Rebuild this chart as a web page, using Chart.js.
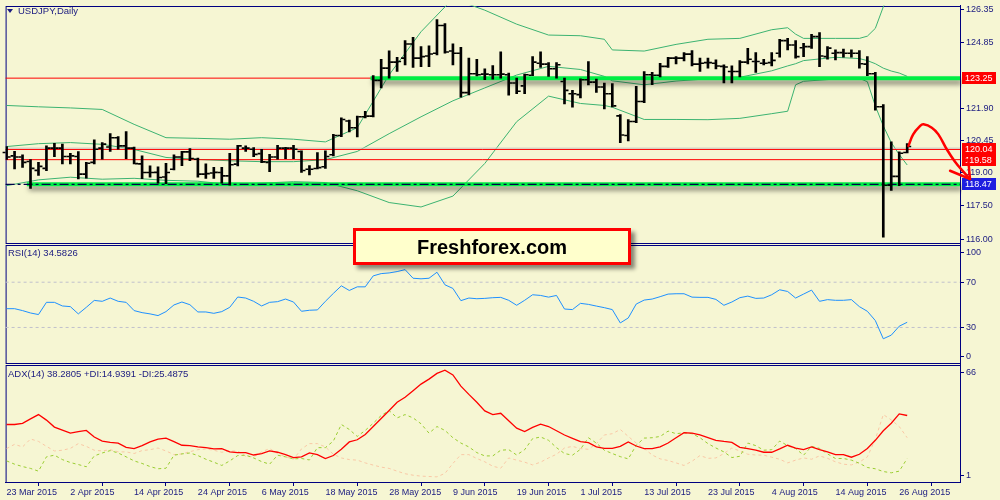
<!DOCTYPE html>
<html>
<head>
<meta charset="utf-8">
<title>USDJPY Daily</title>
<script src="https://cdn.jsdelivr.net/npm/chart.js@4.4.1/dist/chart.umd.min.js"></script>
<style>
  html, body { margin: 0; padding: 0; background: #f6f6d3; }
  #wrap { position: relative; width: 1000px; height: 500px; overflow: hidden; background: #f6f6d3; }
  #chart { position: absolute; left: 0; top: 0; }
  .cap { position: absolute; font: 9.5px "Liberation Sans", Arial, sans-serif; color: #1a1a80; white-space: nowrap; line-height: 12px; }
  .tri { position: absolute; left: 7px; top: 9px; width: 0; height: 0; border-left: 3px solid transparent; border-right: 3px solid transparent; border-top: 4px solid #1a1a80; }
  #brand { position: absolute; left: 353px; top: 228px; width: 272px; height: 31px; border: 3px solid #ff0000;
           background: #ffffcc; box-shadow: 4px 4px 4px rgba(0,0,0,0.45); color: #000; text-align: center;
           font: bold 20px "Liberation Sans", Arial, sans-serif; line-height: 33px; }
</style>
</head>
<body>
<div id="wrap">
  <canvas id="chart" width="1000" height="500"></canvas>
  <div class="tri"></div>
  <div class="cap" style="left:18px;top:5px">USDJPY,Daily</div>
  <div class="cap" style="left:8px;top:247px">RSI(14) 34.5826</div>
  <div class="cap" style="left:8px;top:368px">ADX(14) 38.2805 +DI:14.9391 -DI:25.4875</div>
  <div id="brand">Freshforex.com</div>
</div>
<script>
// daily bars, 23 Mar 2015 .. 27 Aug 2015 (weekdays)
const openP = [119.90,119.75,119.70,119.50,119.10,119.19,120.10,120.10,119.72,119.72,
  118.93,119.46,120.10,120.15,120.57,120.20,120.10,119.39,119.00,119.01,
  118.80,119.15,119.70,119.93,119.60,118.93,118.98,119.00,118.85,119.38,
  120.10,120.05,119.85,119.46,119.70,120.10,120.10,119.95,119.15,119.18,
  119.26,119.80,120.67,121.32,121.02,121.51,121.54,123.15,123.70,123.97,
  124.15,124.79,124.15,124.25,124.37,125.62,124.47,124.37,122.60,123.45,
  123.43,123.40,123.40,123.40,123.03,122.90,123.38,123.92,123.88,123.67,
  123.10,122.55,122.51,123.18,123.07,122.85,122.55,121.55,120.67,121.30,
  122.20,123.40,123.38,123.78,124.15,124.15,124.33,123.88,123.95,123.92,
  123.78,123.55,123.55,123.97,124.00,123.92,123.95,124.37,124.94,124.74,
  124.62,124.67,125.12,124.22,124.37,124.40,124.37,124.37,123.88,123.45,
  121.96,118.43,118.83,119.90];
const highP = [120.17,119.96,119.80,119.58,119.46,120.20,120.32,120.28,119.87,119.94,
  119.46,120.47,120.35,120.75,120.62,120.84,120.15,119.75,119.30,119.26,
  119.41,119.80,119.95,120.08,119.65,119.39,119.23,119.23,119.87,120.23,
  120.20,120.12,120.05,119.82,120.23,120.13,120.23,119.98,119.31,119.90,
  119.98,120.72,121.46,121.36,121.54,121.76,123.36,124.10,124.48,124.19,
  124.94,125.09,124.67,124.70,125.89,125.71,124.79,124.64,124.15,124.10,
  123.67,123.82,124.44,123.48,123.25,123.43,124.22,124.44,123.95,123.95,
  123.25,122.70,123.22,124.00,123.21,123.03,123.00,121.61,121.39,122.88,
  123.55,123.51,123.92,124.19,124.22,124.40,124.49,124.15,124.15,124.07,
  123.85,123.80,124.04,124.59,124.40,124.10,124.40,125.00,125.04,124.94,
  124.82,125.22,125.30,124.67,124.52,124.56,124.52,124.49,124.22,123.51,
  122.06,120.38,119.93,120.30];
const lowP = [119.59,119.16,119.23,118.29,118.87,119.08,119.72,119.39,119.39,118.71,
  118.75,119.39,119.60,119.95,120.05,119.63,119.39,118.72,118.79,118.52,
  118.50,119.12,119.31,119.53,118.79,118.74,118.74,118.52,118.43,119.30,
  119.95,119.72,119.45,119.04,119.60,119.63,119.63,119.01,118.89,119.16,
  119.19,119.75,120.62,120.83,120.60,121.46,121.51,122.81,123.25,123.55,
  123.85,123.73,123.77,123.77,124.30,124.37,123.85,122.39,122.50,123.35,
  123.18,123.20,123.25,122.48,122.55,122.55,123.36,123.73,123.33,123.25,
  122.09,121.94,122.36,122.95,122.61,121.87,121.96,120.35,120.42,121.25,
  122.15,122.96,123.30,123.73,123.89,124.03,123.80,123.55,123.70,123.67,
  123.03,123.03,123.30,123.89,123.51,123.85,123.80,124.19,124.52,124.15,
  124.22,124.59,123.77,124.10,124.07,124.19,124.19,123.70,123.36,121.81,
  116.09,118.19,118.41,119.88];
const closeP = [119.70,119.70,119.46,119.19,119.28,120.10,120.10,119.72,119.75,118.93,
  119.42,120.05,120.28,120.57,120.20,120.10,119.40,119.00,119.00,118.78,
  119.00,119.70,119.93,119.63,118.93,118.95,119.01,118.85,119.35,120.20,
  120.10,119.82,119.48,119.70,120.10,120.10,120.05,119.09,119.15,119.22,
  119.72,120.67,121.39,121.02,121.51,121.54,123.15,123.70,123.97,124.00,
  124.79,124.15,124.22,124.34,125.62,124.43,124.37,122.60,123.45,123.40,
  123.43,123.40,123.43,123.03,122.66,123.40,123.97,123.88,123.67,123.85,
  122.70,122.55,123.18,123.07,122.85,122.55,122.00,120.69,121.30,122.20,
  123.40,123.38,123.78,124.15,124.15,124.33,123.88,123.92,123.95,123.80,
  123.75,123.55,123.97,124.10,124.00,123.92,124.05,124.94,124.74,124.22,
  124.67,125.12,124.25,124.60,124.40,124.37,124.37,123.90,123.45,121.96,
  118.43,118.83,119.87,120.17];

// Bollinger bands at these bar numbers
const bbIdx = [0,4,8,12,16,20,24,28,32,36,40,44,48,52,56,60,64,68,72,75,76,80,84,88,92,96,98,99,100,104,107,108,109,110,111,112,113];
const bbUpper = [122.02,121.96,121.91,121.84,121.17,120.57,120.54,120.50,120.57,120.50,120.38,121.02,123.40,125.34,126.83,126.31,125.68,125.19,125.16,
  125.00,124.52,124.47,124.77,125.00,125.04,125.43,125.52,125.23,125.04,125.04,125.04,125.14,125.49,126.46,127.28,127.72,128.17];
const bbMid = [120.17,120.30,120.35,120.27,120.04,119.68,119.59,119.53,119.49,119.49,119.58,119.95,120.75,121.51,122.23,122.81,123.39,123.78,123.64,
  123.33,123.13,122.95,123.12,123.22,123.29,123.58,123.80,123.90,124.04,124.19,124.13,124.04,123.90,123.70,123.57,123.48,123.33];
const bbLower = [118.41,118.67,118.79,118.70,118.74,118.65,118.61,118.46,118.52,118.59,118.55,118.18,117.65,117.45,117.94,119.41,121.29,122.44,122.11,
  122.02,121.94,121.39,121.39,121.38,121.44,121.65,121.76,122.95,123.11,123.21,123.24,123.09,122.00,121.10,120.35,119.81,119.34];

const rsiVals = [46.6,46.6,44.9,42.8,41.4,52.2,52.2,49.0,48.4,42.0,
  47.8,53.9,53.1,56.0,53.1,52.2,44.9,43.1,42.0,40.5,
  44.0,49.9,52.5,50.1,43.7,43.7,42.5,44.0,47.8,56.9,
  56.0,53.1,49.0,52.2,52.8,55.1,52.5,44.3,45.2,45.5,
  53.1,60.1,66.8,62.7,65.9,65.9,75.6,77.6,78.2,79.4,
  81.1,73.5,73.0,73.5,78.8,67.7,64.5,53.7,56.0,55.4,
  55.7,56.3,56.6,54.0,49.6,54.0,58.9,58.3,56.8,58.3,
  46.3,45.8,51.3,50.4,48.9,47.5,45.8,34.0,38.4,50.7,
  54.2,55.1,57.2,59.5,59.8,59.8,56.8,56.6,56.6,54.8,
  49.6,52.5,56.3,57.7,55.7,56.0,58.9,63.3,61.8,56.0,
  59.5,63.0,53.1,54.6,54.0,54.0,54.6,48.4,44.3,36.1,
  20.0,23.2,31.1,34.6];

const adxVals = [33.5,33.5,34.1,36.6,38.9,35.9,32.1,30.5,28.8,29.6,
  30.3,26.7,24.5,23.8,23.4,21.1,20.4,22.0,24.0,25.6,
  26.1,24.2,22.2,22.0,21.3,20.9,20.2,20.4,18.6,18.2,
  18.2,16.9,17.7,19.1,18.4,17.1,15.5,15.9,18.0,17.1,
  15.0,16.6,20.0,24.0,25.2,28.1,32.4,36.8,41.1,45.6,
  48.3,51.9,55.5,58.2,61.3,63.1,60.5,54.4,49.9,45.6,
  40.9,38.9,39.6,35.5,31.5,29.7,31.9,33.7,32.4,30.1,
  27.8,26.0,24.2,23.6,21.3,20.5,20.5,21.6,24.0,21.8,
  20.4,20.4,21.3,23.4,26.3,29.0,28.8,27.8,26.3,24.9,
  24.3,23.8,21.1,20.4,19.5,18.4,18.4,20.2,22.2,20.7,
  19.8,21.3,19.8,18.6,17.1,17.1,15.7,17.3,20.4,24.9,
  30.1,34.2,39.3,38.4];
const plusDI = [13.7,11.9,10.6,9.6,8.1,15.9,16.8,14.4,12.8,11.7,
  10.5,16.4,18.0,19.3,18.0,15.9,13.7,12.3,10.6,9.4,
  9.7,16.8,17.5,18.0,16.6,14.6,13.0,11.2,13.7,16.6,
  16.8,15.3,13.3,11.9,16.8,15.9,14.8,15.0,14.2,20.9,
  20.9,24.5,33.5,30.8,27.0,30.3,34.2,38.4,41.1,37.1,
  38.9,37.1,33.9,28.8,32.4,30.3,26.3,23.4,21.3,18.2,
  16.4,16.4,19.5,19.8,16.9,19.8,25.8,26.7,24.9,20.9,
  17.7,16.8,20.0,26.3,23.4,19.5,17.7,16.0,14.8,22.2,
  26.1,26.3,27.0,29.9,28.5,29.0,28.5,26.3,23.1,20.7,
  18.6,15.5,16.2,23.4,22.0,19.5,19.8,24.5,22.0,20.4,
  16.8,21.6,20.5,17.5,15.0,15.0,14.1,12.4,10.1,9.4,
  7.9,7.2,8.1,15.0];
const minusDI = [20.4,22.7,21.3,25.6,24.3,21.6,19.1,19.5,20.5,23.1,
  21.6,19.5,19.1,19.8,18.6,18.6,17.7,19.3,19.8,20.7,
  19.1,17.1,17.5,18.7,19.8,20.2,19.5,18.4,19.1,19.1,
  16.2,15.9,18.6,20.4,17.7,15.9,14.6,20.2,23.1,23.1,
  21.3,17.3,15.3,14.4,14.1,12.6,11.4,10.3,9.6,8.1,
  6.7,5.9,5.4,5.2,5.0,6.9,12.3,17.1,17.1,15.0,
  13.2,10.8,9.7,15.3,14.1,13.0,11.5,13.0,15.3,17.3,
  20.7,21.6,20.4,20.0,23.1,27.8,28.5,30.8,27.0,23.4,
  20.4,16.9,14.8,13.9,12.6,11.2,13.5,16.6,15.1,15.3,
  17.7,20.7,19.1,17.3,16.9,16.8,15.7,14.6,12.6,14.1,
  15.3,14.6,16.4,15.1,13.2,11.9,11.5,13.0,15.9,25.4,
  38.9,36.0,32.4,26.3];

const dateLabels = ['23 Mar 2015','2 Apr 2015','14 Apr 2015','24 Apr 2015','6 May 2015','18 May 2015','28 May 2015',
  '9 Jun 2015','19 Jun 2015','1 Jul 2015','13 Jul 2015','23 Jul 2015','4 Aug 2015','14 Aug 2015','26 Aug 2015'];
const dateTickIdx = [0,8,16,24,32,40,48,56,64,72,80,88,96,104,112];
const priceTicks = [126.35,124.85,121.90,120.45,119.00,117.50,116.00];
// the terminal pulls its edge labels inside the sub-window
const rsiTickLabels = ['100','70','30','0'];
const rsiTickAt = [96.3,70,30,4.2];
const adxTickLabels = ['66','1'];
const adxTickAt = [61.8,5.6];

// drawn levels
const redLevels = [123.25,120.04,119.58];
const resistance = 123.25, resistanceFrom = 45.66;
const support = 118.47, supportFrom = 2.54;
const bidPrice = 120.10;
const rsiLevels = [70,30];
const boxLevels = [123.25,120.04,119.58,118.47];

// hand-drawn forecast arrow (bar number, price)
const arrowIdx = [113.16,113.75,114.63,115.04,116.09,116.91,117.96,119.0,120.04,120.88];
const arrowPrice = [120.20,120.72,121.10,121.17,121.02,120.72,120.05,119.49,119.04,118.71];
const headIdx = [118.38,120.88,120.66];
const headPrice = [119.08,118.71,119.59];

const X_MIN = -0.125, X_MAX = 119.625;
const NAVY = '#000080';
const TXT = '#1a1a80';

Chart.defaults.font.family = '"Liberation Sans", Arial, sans-serif';
Chart.defaults.font.size = 9;
Chart.defaults.color = TXT;

const pts = (xs, ys) => xs.map((x, k) => ({ x: x, y: ys[k] }));
const bars = openP.map((_, i) => i);

function line(data, axis, color, width, extra) {
  return Object.assign({
    type: 'line', data: data, xAxisID: 'x', yAxisID: axis,
    borderColor: color, borderWidth: width, pointRadius: 0, fill: false, tension: 0
  }, extra || {});
}

const datasets = [];
// arrow on top
datasets.push(line(pts(arrowIdx, arrowPrice), 'y', '#ff0000', 2.5,
  { tension: 0.4, clip: false, capBezierPoints: false, borderCapStyle: 'round', order: 0 }));
datasets.push(line(pts(headIdx, headPrice), 'y', '#ff0000', 2.5,
  { clip: false, borderCapStyle: 'round', borderJoinStyle: 'round', order: 0 }));
// open / close ticks
datasets.push(line(bars.map(i => ({ x: i - 0.3125, y: openP[i] })), 'y', '#000', 0,
  { showLine: false, pointStyle: 'line', pointRadius: 1.5, pointBorderWidth: 1.6, pointBorderColor: '#000', order: 1 }));
datasets.push(line(bars.map(i => ({ x: i + 0.3125, y: closeP[i] })), 'y', '#000', 0,
  { showLine: false, pointStyle: 'line', pointRadius: 1.5, pointBorderWidth: 1.6, pointBorderColor: '#000', order: 1 }));
// high-low bars
datasets.push({
  type: 'bar', xAxisID: 'x', yAxisID: 'y', order: 2,
  data: bars.map(i => ({ x: i, y: [lowP[i], highP[i]] })),
  backgroundColor: '#000', borderWidth: 0, barThickness: 2
});
// indicator lines
datasets.push(line(pts(bars, rsiVals), 'yr', '#1e90ff', 1, { order: 3 }));
datasets.push(line(pts(bars, adxVals), 'ya', '#ff0000', 1.3, { order: 3 }));
datasets.push(line(pts(bars, plusDI), 'ya', '#9acd32', 1, { borderDash: [3, 3], order: 4 }));
datasets.push(line(pts(bars, minusDI), 'ya', '#f9c8a6', 1, { borderDash: [3, 3], order: 5 }));
// support / resistance
datasets.push(line([{ x: X_MIN, y: support }, { x: X_MAX, y: support }], 'y', '#00004a', 1.2, { borderDash: [9, 3, 3, 3], order: 6 }));
datasets.push(line([{ x: resistanceFrom, y: resistance }, { x: X_MAX, y: resistance }], 'y', '#00ee44', 4, { glow: true, order: 7 }));
datasets.push(line([{ x: supportFrom, y: support }, { x: X_MAX, y: support }], 'y', '#00ee44', 4, { glow: true, order: 7 }));
redLevels.forEach(v => datasets.push(line([{ x: X_MIN, y: v }, { x: X_MAX, y: v }], 'y', '#ff0000', 1, { order: 8 })));
datasets.push(line([{ x: X_MIN, y: bidPrice }, { x: X_MAX, y: bidPrice }], 'y', '#c8c8c8', 1, { order: 8 }));
// bollinger
datasets.push(line(pts(bbIdx, bbUpper), 'y', '#3cb371', 1, { order: 9 }));
datasets.push(line(pts(bbIdx, bbMid), 'y', '#3cb371', 1, { order: 9 }));
datasets.push(line(pts(bbIdx, bbLower), 'y', '#3cb371', 1, { order: 9 }));
rsiLevels.forEach(v => datasets.push(line([{ x: X_MIN, y: v }, { x: X_MAX, y: v }], 'yr', '#c0c0cc', 1, { borderDash: [3, 3], order: 10 })));

// soft shadow under the thick green lines
const glowPlugin = {
  id: 'glow',
  beforeDatasetDraw(chart, args) {
    if (!chart.data.datasets[args.index].glow) return;
    const ctx = chart.ctx;
    ctx.save();
    ctx.shadowColor = 'rgba(0,0,0,0.5)';
    ctx.shadowBlur = 5;
    ctx.shadowOffsetX = 2;
    ctx.shadowOffsetY = 4;
  },
  afterDatasetDraw(chart, args) {
    if (chart.data.datasets[args.index].glow) chart.ctx.restore();
  }
};

// panel frames and price boxes on the right scale
const panelPlugin = {
  id: 'panels',
  beforeDatasetsDraw(chart) {
    const { ctx, chartArea } = chart;
    ctx.save();
    ctx.strokeStyle = NAVY;
    ctx.lineWidth = 1;
    ['y', 'yr', 'ya'].forEach((id, k) => {
      const s = chart.scales[id];
      const top = Math.round(s.top) + (k ? 1 : 0);
      const bottom = Math.round(s.bottom) - (k < 2 ? 1 : 0);
      ctx.strokeRect(chartArea.left + 0.5, top + 0.5, chartArea.right - chartArea.left, bottom - top);
    });
    const sy = chart.scales.y;
    ctx.font = '9px "Liberation Sans", Arial, sans-serif';
    ctx.textBaseline = 'middle';
    boxLevels.forEach((v, k) => {
      const y = Math.round(sy.getPixelForValue(v));
      ctx.fillStyle = k === boxLevels.length - 1 ? '#1e1ee0' : '#ff0000';
      ctx.fillRect(chartArea.right + 2, y - 6, 34, 12);
      ctx.fillStyle = '#ffffff';
      ctx.fillText(v.toFixed(2), chartArea.right + 5, y + 0.5);
    });
    ctx.restore();
  }
};

function yAxis(weight, min, max, ticks, fmt) {
  return {
    type: 'linear', position: 'right', stack: 'panels', stackWeight: weight,
    min: min, max: max, bounds: 'data',
    afterBuildTicks: s => { s.ticks = ticks.map(v => ({ value: v })); },
    afterFit: s => { s.width = 40; s.paddingTop = 0; s.paddingBottom = 0; },
    ticks: { padding: 2, autoSkip: false, color: TXT, callback: fmt },
    grid: { drawOnChartArea: false, tickLength: 4, color: NAVY },
    border: { color: NAVY }
  };
}

new Chart(document.getElementById('chart'), {
  type: 'line',
  data: { datasets: datasets },
  plugins: [glowPlugin, panelPlugin],
  options: {
    responsive: false,
    animation: false,
    devicePixelRatio: 1,
    events: [],
    layout: { padding: { left: 2, top: 2, right: 0, bottom: 0 } },
    plugins: { legend: { display: false }, tooltip: { enabled: false } },
    scales: {
      x: {
        type: 'linear', position: 'bottom', bounds: 'data', offset: false,
        afterDataLimits: s => { s.min = X_MIN; s.max = X_MAX; },
        afterBuildTicks: s => { s.ticks = dateTickIdx.map(v => ({ value: v })); },
        afterFit: s => { s.height = 18; s.paddingLeft = 0; s.paddingRight = 0; },
        ticks: { align: 'start', padding: 1, autoSkip: false, maxRotation: 0, minRotation: 0, color: TXT,
                 callback: (v, k) => dateLabels[k] },
        grid: { drawOnChartArea: false, tickLength: 4, color: NAVY },
        border: { color: NAVY }
      },
      y: yAxis(240.5, 115.77, 126.516, priceTicks, v => v.toFixed(2)),
      yr: yAxis(120.5, -2.2, 103.5, rsiTickAt, (v, k) => rsiTickLabels[k]),
      ya: yAxis(119, 2.2, 66.5, adxTickAt, (v, k) => adxTickLabels[k])
    }
  }
});
</script>
</body>
</html>
